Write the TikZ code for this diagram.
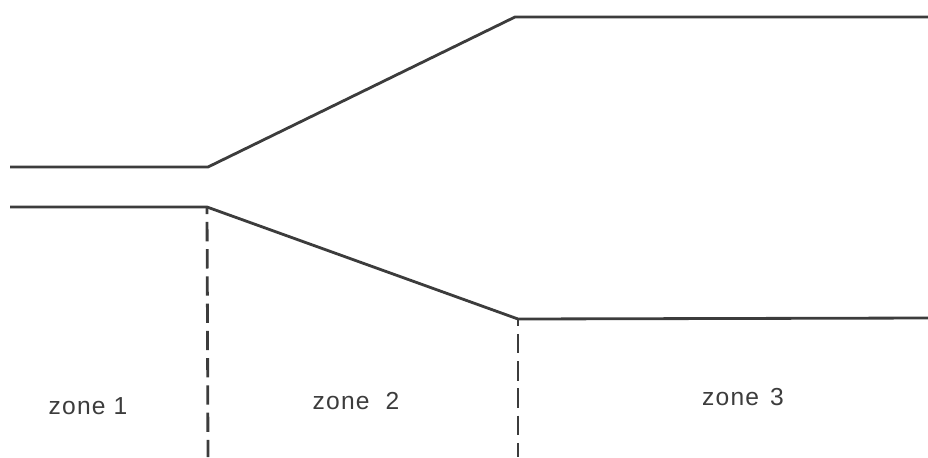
\documentclass[tikz,border=0pt]{standalone}
\usepackage{fontspec}
\setmainfont{Liberation Sans}
\usepackage{tikz}
\usetikzlibrary{positioning}
\definecolor{wallgray}{RGB}{60,60,60}

\begin{document}
\begin{tikzpicture}[
  x=0.02cm, y=-0.02cm,
  every node/.style={font=\fontsize{14}{16}\selectfont\addfontfeature{LetterSpace=5}, text=wallgray},
  wall/.style={draw=wallgray, line width=1.6pt, line join=round},
  cut/.style={draw=wallgray, line width=1.6pt, dash pattern=on 11pt off 4.5pt, dash phase=7pt},
  lab/.style={anchor=center}
]
\useasboundingbox (0,0) rectangle (928,457);
% nozzle walls
\coordinate (uin) at (10,167);
\coordinate (uthroat) at (208,167);
\coordinate (uexit) at (515,17);
\coordinate (uend) at (928,17);
\coordinate (lin) at (10,207);
\coordinate (lthroat) at (207,207);
\coordinate (lexit) at (518,319);
\coordinate (lend) at (928,318);
\coordinate (cutA) at (208,457);
\coordinate (cutB) at (518,457);
\draw[wall] (uin) -- (uthroat) -- (uexit) -- (uend);
\draw[wall] (lin) -- (lthroat) -- (lexit) -- (lend);
% zone boundaries
\draw[cut] (lthroat) -- (cutA);
\draw[cut] (lexit) -- (cutB);
\node[lab] (zone1) at (88,406) {zone 1};
\node[lab] (zone2) at (356,401) {zone\hspace{0.65em}2};
\node[lab] (zone3) at (743,397) {zone\hspace{0.45em}3};
\end{tikzpicture}
\end{document}
